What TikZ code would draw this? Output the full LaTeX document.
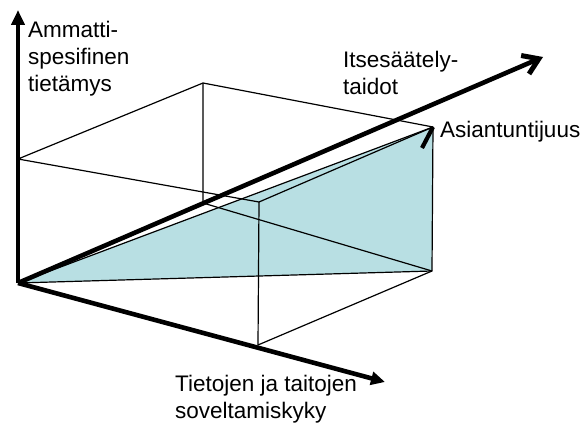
\documentclass[tikz,border=0pt]{standalone}
\usepackage{fontspec}
\setmainfont{Liberation Sans}
\usetikzlibrary{arrows.meta,calc}
\definecolor{aquafill}{HTML}{B8DFE3}
\tikzset{
  thinedge/.style={line width=1.2pt, line join=round},
  axis/.style={line width=4.6pt},
  lbl/.style={font=\fontsize{22.5}{27}\selectfont, inner sep=0pt, anchor=base west, align=left}
}
\begin{document}
\begin{tikzpicture}[x=1pt,y=1pt]
\useasboundingbox (0,0) rectangle (584,426);
% corners (screen y flipped)
\coordinate (O) at (18,143);
\coordinate (Vt) at (18,416);
\coordinate (Ht) at (385,44);
\coordinate (Dt) at (543,369);
\coordinate (P) at (18,267);
\coordinate (Q) at (203,343);
\coordinate (R) at (433,299);
\coordinate (S) at (259,224);
\coordinate (A) at (258,81);
\coordinate (D) at (432,155);
\coordinate (E) at (203,223);
\coordinate (Rb) at (422,278);
% shaded triangle
\fill[aquafill] (O) -- (D) -- (R) -- cycle;
% box edges
\draw[thinedge] (P) -- (Q) -- (R) -- (S) -- cycle;
\draw[thinedge] (A) -- (D) -- (R);
\draw[thinedge] (S) -- (A);
\draw[thinedge] (Q) -- (E) -- (D);
\draw[thinedge] (O) -- (D);
\draw[thinedge] (O) -- (R);
\draw[line width=4.2pt] (R) -- (Rb);
% axes
\draw[axis, -{Triangle[length=15pt,width=13pt]}] (O) -- (Vt);
\draw[axis, -{Triangle[length=14pt,width=13pt]}] (O) -- (Ht);
\draw[axis, -{Straight Barb[length=15pt,width=20pt,line width=5pt]}] (O) -- (Dt);
% labels (anchored at the baseline of the last line)
\node[lbl] (l1) at (28,334) {Ammatti-\\spesifinen\\tietämys};
\node[lbl] (l2) at (343,331) {Itsesäätely-\\taidot};
\node[lbl] (l3) at (440,288) {Asiantuntijuus};
\node[lbl] (l4) at (175,8) {Tietojen ja taitojen\\soveltamiskyky};
\end{tikzpicture}
\end{document}
